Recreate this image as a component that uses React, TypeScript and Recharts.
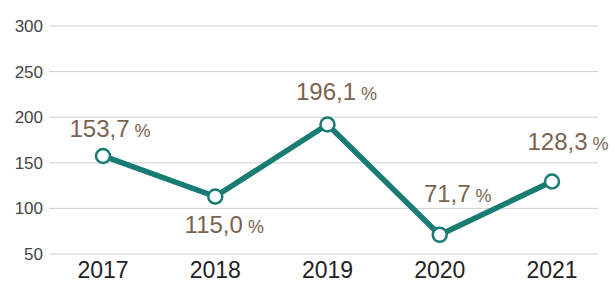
import React from "react";
import { LineChart, Line, XAxis, YAxis, CartesianGrid } from "recharts";

const years = ["2017", "2018", "2019", "2020", "2021"];
const values = [157.5, 113, 192, 71, 129.5];
const valueLabels = ["153,7", "115,0", "196,1", "71,7", "128,3"];
const yTicks = [50, 100, 150, 200, 250, 300];

const data = years.map((y, i) => ({ year: y, v: values[i], label: valueLabels[i] }));

const labelOffsets = [
  { dx: 7, dy: -19 },
  { dx: 9, dy: 36 },
  { dx: 9, dy: -24 },
  { dx: 18, dy: -33 },
  { dx: 16, dy: -31 },
];

const ValueLabel = (props: any) => {
  const { x, y, index } = props;
  const o = labelOffsets[index] || { dx: 0, dy: -20 };
  return (
    <text
      x={x + o.dx}
      y={y + o.dy}
      textAnchor="middle"
      fill="#7b6350"
      fontFamily="'Liberation Sans', Arial, sans-serif"
    >
      <tspan fontSize={24}>{valueLabels[index]}</tspan>
      <tspan fontSize={18}> %</tspan>
    </text>
  );
};

export default function App() {
  return (
    <div style={{ position: "absolute", left: 0, top: 0, background: "#fff" }}>
      <LineChart
        width={615}
        height={282}
        data={data}
        margin={{ top: 26, right: 17, left: 0, bottom: 0 }}
        style={{ fontFamily: "'Liberation Sans', Arial, sans-serif" }}
      >
        <CartesianGrid vertical={false} stroke="#cfcfcf" strokeWidth={1} />
        <XAxis
          dataKey="year"
          axisLine={false}
          tickLine={false}
          tickSize={0}
          tickMargin={8}
          height={28}
          padding={{ left: 54, right: 46 }}
          tick={{ fill: "#222", fontSize: 23 }}
          interval={0}
        />
        <YAxis
          domain={[50, 300]}
          ticks={yTicks}
          axisLine={false}
          tickLine={false}
          tickSize={0}
          tickMargin={6}
          width={49}
          tick={{ fill: "#444", fontSize: 17 }}
          interval={0}
        />
        <Line
          dataKey="v"
          stroke="#187b74"
          strokeWidth={5.5}
          dot={{ r: 7, fill: "#fff", stroke: "#187b74", strokeWidth: 2.5 }}
          isAnimationActive={false}
          label={<ValueLabel />}
        />
      </LineChart>
    </div>
  );
}
